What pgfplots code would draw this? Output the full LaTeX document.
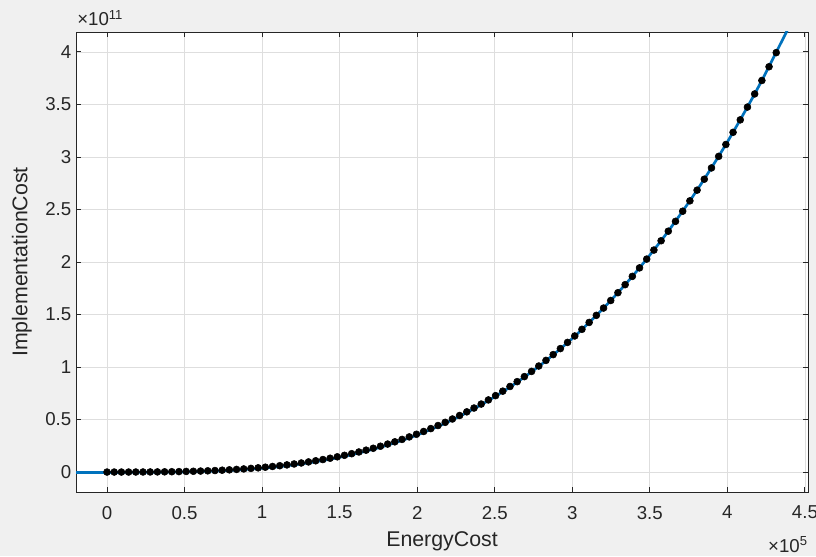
\documentclass[border=0pt]{standalone}
\usepackage{fontspec}
\setmainfont{Liberation Sans}
\usepackage{pgfplots}
\usepackage{pgfplotstable}
\pgfplotsset{compat=1.18}

\definecolor{figbg}{HTML}{F0F0F0}
\definecolor{axgray}{HTML}{262626}
\definecolor{gridgray}{HTML}{DEDEDE}
\definecolor{mblue}{HTML}{0072BD}

% measured points (x in 1e5, y in 1e11)
\pgfplotstableread{
x y
0 0
0.0464 0.0000
0.0928 0.0000
0.1392 0.0001
0.1856 0.0003
0.2320 0.0005
0.2784 0.0009
0.3248 0.0014
0.3712 0.0022
0.4176 0.0031
0.4640 0.0042
0.5104 0.0056
0.5568 0.0073
0.6032 0.0094
0.6496 0.0117
0.6960 0.0144
0.7424 0.0176
0.7888 0.0211
0.8352 0.0251
0.8816 0.0296
0.9280 0.0346
0.9744 0.0401
1.0208 0.0462
1.0672 0.0529
1.1136 0.0602
1.1600 0.0682
1.2064 0.0769
1.2528 0.0863
1.2992 0.0964
1.3456 0.1073
1.3920 0.1191
1.4384 0.1316
1.4848 0.1451
1.5312 0.1594
1.5776 0.1747
1.6240 0.1910
1.6704 0.2082
1.7168 0.2265
1.7632 0.2458
1.8096 0.2663
1.8560 0.2879
1.9024 0.3106
1.9488 0.3346
1.9952 0.3597
2.0416 0.3862
2.0880 0.4139
2.1344 0.4430
2.1808 0.4734
2.2272 0.5052
2.2736 0.5385
2.3200 0.5733
2.3664 0.6095
2.4128 0.6473
2.4592 0.6867
2.5056 0.7277
2.5520 0.7703
2.5984 0.8147
2.6448 0.8607
2.6912 0.9086
2.7376 0.9582
2.7840 1.0096
2.8304 1.0630
2.8768 1.1182
2.9232 1.1754
2.9696 1.2345
3.0160 1.2957
3.0624 1.3590
3.1088 1.4244
3.1552 1.4919
3.2016 1.5615
3.2480 1.6334
3.2944 1.7076
3.3408 1.7841
3.3872 1.8629
3.4336 1.9441
3.4800 2.0277
3.5264 2.1137
3.5728 2.2023
3.6192 2.2934
3.6656 2.3870
3.7120 2.4834
3.7584 2.5823
3.8048 2.6840
3.8512 2.7884
3.8976 2.8957
3.9440 3.0058
3.9904 3.1187
4.0368 3.2346
4.0832 3.3534
4.1296 3.4752
4.1760 3.6001
4.2224 3.7281
4.2688 3.8592
4.3152 3.9935
}\pointsdata

% fitted curve
\pgfplotstableread{
x y
-0.2 -0.004
0.0 -0.004
0.2 -0.003
0.4 -0.001
0.6 0.005
0.8 0.016
1.0 0.036
1.2 0.067
1.4 0.112
1.6 0.173
1.8 0.252
2.0 0.353
2.2 0.478
2.4 0.630
2.6 0.811
2.8 1.024
3.0 1.272
3.2 1.558
3.4 1.885
3.6 2.256
3.8 2.674
4.0 3.143
4.2 3.666
4.4 4.247
}\fitdata

\begin{document}
\begin{tikzpicture}
\fill[figbg] (0,0) rectangle (612pt,417pt);
\begin{axis}[
    at={(57pt,48pt)}, anchor=south west,
    scale only axis,
    width=549pt, height=345pt,
    xmin=-0.2, xmax=4.52,
    ymin=-0.19, ymax=4.19,
    xtick={0,0.5,...,4.5},
    ytick={0,0.5,...,4},
    scaled ticks=false,
    /pgf/number format/assume math mode=true,
    tick label style={font=\fontsize{14}{17}\selectfont, text=axgray},
    xticklabel style={yshift=-7pt},
    label style={font=\fontsize{16}{19}\selectfont, text=axgray},
    xlabel={EnergyCost},
    ylabel={ImplementationCost},
    xlabel style={at={(axis description cs:0.5,-0.1065)}, anchor=center},
    ylabel style={at={(axis description cs:-0.0738,0.5)}, anchor=center},
    axis line style={draw=axgray, line width=0.7pt},
    tick style={draw=axgray, line width=0.7pt},
    major tick length=4pt,
    tick align=inside,
    grid=major,
    grid style={draw=gridgray, line width=0.6pt},
    axis background/.style={fill=white},
]
\addplot[only marks, mark=*, mark size=2.6pt, black] table[x=x, y=y] {\pointsdata};
\addplot[mblue, line width=2pt, smooth] table[x=x, y=y] {\fitdata};
\end{axis}
\node[anchor=base west, inner sep=0pt, text=axgray, font=\fontsize{14}{17}\selectfont] at (57.75pt,397.5pt) {×10\textsuperscript{11}};
\node[anchor=base east, inner sep=0pt, text=axgray, font=\fontsize{14}{17}\selectfont] at (606pt,3pt) {×10\textsuperscript{5}};
\pgfresetboundingbox
\path (0,0) rectangle (612pt,417pt);
\end{tikzpicture}
\end{document}
